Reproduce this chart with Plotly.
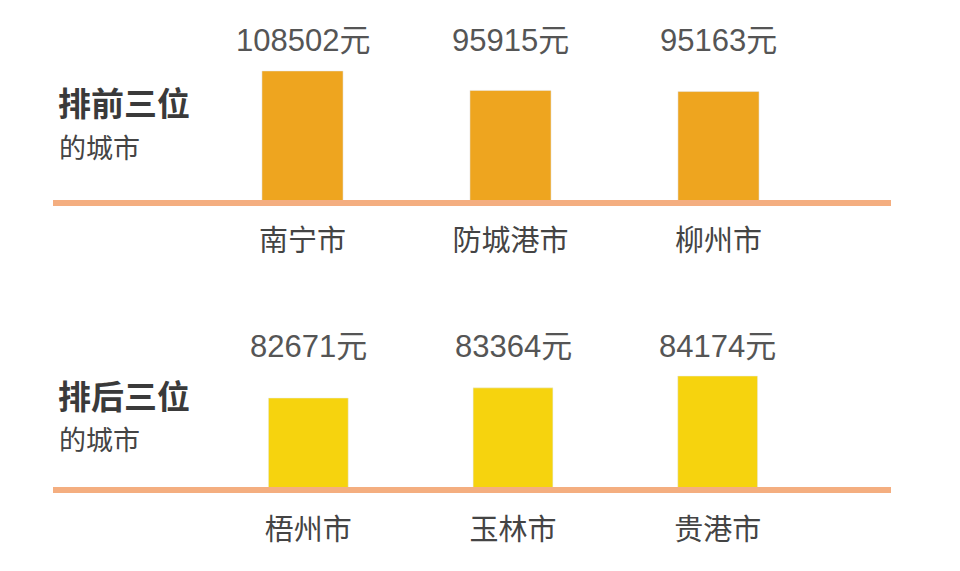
import plotly.graph_objects as go

# top three and bottom three cities, average wage (元)
top_cities = ["南宁市", "防城港市", "柳州市"]
top_values = [108502, 95915, 95163]
bottom_cities = ["梧州市", "玉林市", "贵港市"]
bottom_values = [82671, 83364, 84174]

W, H = 960, 571
OFF = 8  # page body margin
orange = "#EEA51F"
yellow = "#F6D30E"
line_color = "#F4AE80"
font_family = "Liberation Sans, Noto Sans CJK SC, sans-serif"
cjk = "Noto Sans CJK SC, sans-serif"


def px_x(p):
    return (p - OFF) / W


def px_y(p):
    return 1 - (p - OFF) / H


fig = go.Figure()

fig.add_trace(go.Bar(x=top_cities, y=top_values, marker_color=orange,
                     xaxis="x", yaxis="y", hoverinfo="x+y"))
fig.add_trace(go.Bar(x=bottom_cities, y=bottom_values, marker_color=yellow,
                     xaxis="x2", yaxis="y2", hoverinfo="x+y"))

annotations = []
# value labels above each bar row
for c, v in zip(top_cities, top_values):
    annotations.append(dict(x=c, xref="x", y=px_y(41), yref="paper",
                            xanchor="center", yanchor="middle",
                            text=f"{v}元", showarrow=False,
                            font=dict(size=31, color="#555555", family=font_family)))
for c, v in zip(bottom_cities, bottom_values):
    annotations.append(dict(x=c, xref="x2", y=px_y(346), yref="paper",
                            xanchor="center", yanchor="middle",
                            text=f"{v}元", showarrow=False,
                            font=dict(size=31, color="#555555", family=font_family)))

# left side labels
for title, ytitle, ysub in [("排前三位", 102, 146), ("排后三位", 395, 438)]:
    annotations.append(dict(x=px_x(57), xref="paper", y=px_y(ytitle), yref="paper",
                            xanchor="left", yanchor="middle", borderpad=0,
                            text=f"<b>{title}</b>", showarrow=False,
                            font=dict(size=33, color="#3a3a3a", family=cjk)))
    annotations.append(dict(x=px_x(58), xref="paper", y=px_y(ysub), yref="paper",
                            xanchor="left", yanchor="middle", borderpad=0,
                            text="的城市", showarrow=False,
                            font=dict(size=27, color="#444444", family=cjk)))

# baselines
shapes = [
    dict(type="line", xref="paper", yref="paper", x0=px_x(53), x1=px_x(891),
         y0=px_y(203), y1=px_y(203), line=dict(color=line_color, width=6)),
    dict(type="line", xref="paper", yref="paper", x0=px_x(53), x1=px_x(891),
         y0=px_y(490), y1=px_y(490), line=dict(color=line_color, width=6)),
]

tickfont = dict(size=29, color="#444444", family=cjk)

fig.update_layout(
    width=W, height=H,
    margin=dict(l=0, r=0, t=0, b=0),
    paper_bgcolor="white", plot_bgcolor="white",
    showlegend=False,
    bargap=0.61,
    xaxis=dict(domain=[px_x(198.5), px_x(822.5)], anchor="y", showgrid=False,
               zeroline=False, showline=False, ticks="", tickfont=tickfont,
               ticklabelstandoff=18),
    yaxis=dict(domain=[px_y(203), px_y(43)], anchor="x", range=[23000, 126600],
               visible=False),
    xaxis2=dict(domain=[px_x(206), px_x(820)], anchor="y2", showgrid=False,
                zeroline=False, showline=False, ticks="", tickfont=tickfont,
                ticklabelstandoff=20),
    yaxis2=dict(domain=[px_y(490), px_y(330)], anchor="x2", range=[76386, 87317],
                visible=False),
    annotations=annotations,
    shapes=shapes,
)

fig.write_html("out.html")
